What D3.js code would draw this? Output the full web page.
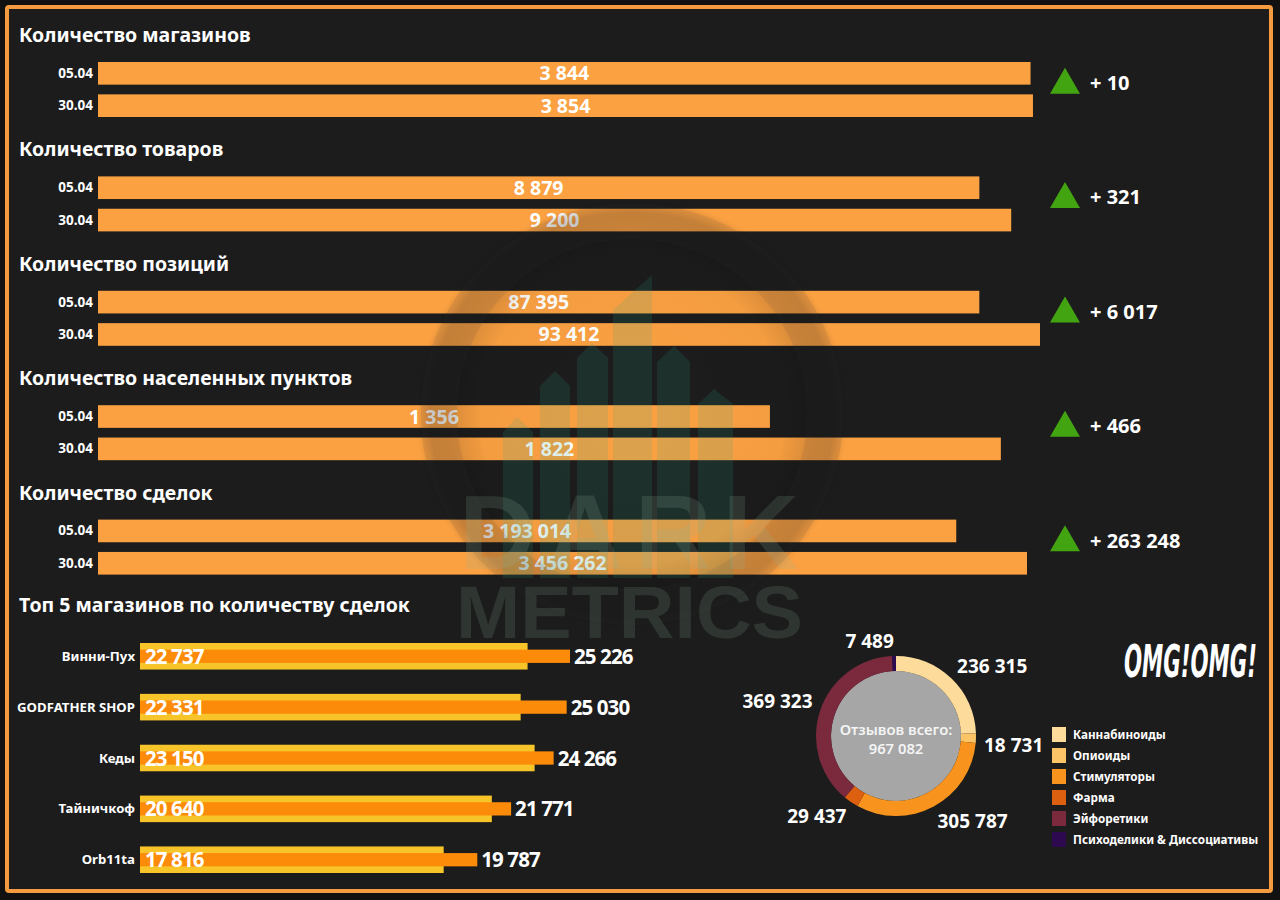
<!DOCTYPE html>
<html><head><meta charset="utf-8">
<script src="https://cdn.jsdelivr.net/npm/d3@7"></script>
<style>html,body{margin:0;padding:0;background:#111;} svg{display:block}</style>
</head><body><div id="chart"></div>
<script>
// ---------- DATA ----------
const sectionTitles = ["Количество магазинов","Количество товаров","Количество позиций","Количество населенных пунктов","Количество сделок"];
const dateLabels = ["05.04","30.04"];
const countsApr05 = [3844, 8879, 87395, 1356, 3193014];
const countsApr30 = [3854, 9200, 93412, 1822, 3456262];
const sectionAxisMax = [3883, 9490, 93412, 1901, 3504600];

const topShopsTitle = "Топ 5 магазинов по количеству сделок";
const shops = ["Винни-Пух","GODFATHER SHOP","Кеды","Тайничкоф","Orb11ta"];
const shopDealsApr05 = [22737, 22331, 23150, 20640, 17816];
const shopDealsApr30 = [25226, 25030, 24266, 21771, 19787];

const reviewCategories = ["Каннабиноиды","Опиоиды","Стимуляторы","Фарма","Эйфоретики","Психоделики & Диссоциативы"];
const reviewCounts = [236315, 18731, 305787, 29437, 369323, 7489];
const reviewColors = ["#fcdb9b","#fbc467","#f8941e","#dc600f","#7b2a3e","#2d0a50"];
const reviewTotalLabel = "Отзывов всего:";
const brandLabel = "OMG!OMG!";
const watermarkWords = ["DARK","METRICS"];

// ---------- SETUP ----------
const W = 1280, H = 900;
const FONT = "'Noto Sans','Open Sans',sans-serif";
const fmt = v => d3.format(",")(v).replace(/,/g, " ");
const BAR = "#fba142";

const svg = d3.select("#chart").append("svg").attr("width", W).attr("height", H)
  .style("font-family", FONT);
svg.append("rect").attr("width", W).attr("height", H).attr("fill", "#111");
svg.append("rect").attr("x", 7).attr("y", 7).attr("width", 1264).attr("height", 884)
  .attr("rx", 2).attr("fill", "#1c1c1c").attr("stroke", "#f59b3f").attr("stroke-width", 4);

// ---------- TOP SECTIONS ----------
const sectionBand = d3.scaleBand().domain(d3.range(sectionTitles.length)).range([20, 20 + 5 * 114.4]);
sectionTitles.forEach((title, i) => {
  const top = sectionBand(i);
  const g = svg.append("g");
  g.append("text").attr("x", 19).attr("y", top + 22).attr("fill", "#fff")
    .attr("font-size", 19.5).attr("font-weight", 700).text(title);
  const yb = d3.scaleBand().domain(dateLabels).range([top + 42, top + 97]).paddingInner(0.3);
  const x = d3.scaleLinear().domain([0, sectionAxisMax[i]]).range([98, 1040]);
  const vals = [countsApr05[i], countsApr30[i]];
  const rows = dateLabels.map((d, k) => ({d, v: vals[k]}));
  g.selectAll("rect.bar").data(rows).join("rect").attr("class", "bar")
    .attr("x", x(0)).attr("y", r => yb(r.d)).attr("width", r => x(r.v) - x(0))
    .attr("height", yb.bandwidth()).attr("fill", BAR);
  g.selectAll("text.date").data(rows).join("text").attr("class", "date")
    .attr("x", 93).attr("y", r => yb(r.d) + yb.bandwidth() / 2 + 4.5)
    .attr("text-anchor", "end").attr("fill", "#fff").attr("font-size", 13.5).attr("font-weight", 700)
    .text(r => r.d);
  g.selectAll("text.val").data(rows).join("text").attr("class", "val")
    .attr("x", r => (x(0) + x(r.v)) / 2).attr("y", r => yb(r.d) + yb.bandwidth() / 2 + 7)
    .attr("text-anchor", "middle").attr("fill", "#fff").attr("font-size", 19.5).attr("font-weight", 700)
    .text(r => fmt(r.v));
  const mid = (yb(dateLabels[0]) + yb(dateLabels[1]) + yb.bandwidth()) / 2;
  const delta = vals[1] - vals[0];
  g.append("path").attr("d", d3.symbol(d3.symbolTriangle, 390)())
    .attr("transform", `translate(1065,${mid - 4.5})`).attr("fill", "#43a412");
  g.append("text").attr("x", 1090).attr("y", mid + 0.5).attr("fill", "#fff")
    .attr("font-size", 20).attr("font-weight", 700).text((delta >= 0 ? "+ " : "- ") + fmt(Math.abs(delta)));
});

// ---------- TOP 5 SHOPS ----------
svg.append("text").attr("x", 19).attr("y", 612).attr("fill", "#fff")
  .attr("font-size", 19.5).attr("font-weight", 700).text(topShopsTitle);
const ys = d3.scaleBand().domain(shops).range([643, 873]).paddingInner(0.478);
const xs = d3.scaleLinear().domain([0, d3.max(shopDealsApr30)]).range([140, 570]);
const shopRows = shops.map((s, i) => ({s, a: shopDealsApr05[i], b: shopDealsApr30[i]}));
const gs = svg.append("g");
gs.selectAll("rect.y").data(shopRows).join("rect").attr("class", "y")
  .attr("x", xs(0)).attr("y", r => ys(r.s)).attr("width", r => xs(r.a) - xs(0))
  .attr("height", ys.bandwidth()).attr("fill", "#f7c52a");
gs.selectAll("rect.o").data(shopRows).join("rect").attr("class", "o")
  .attr("x", xs(0)).attr("y", r => ys(r.s) + ys.bandwidth() * 0.25).attr("width", r => xs(r.b) - xs(0))
  .attr("height", ys.bandwidth() * 0.5).attr("fill", "#fd8b0a");
gs.selectAll("text.name").data(shopRows).join("text").attr("class", "name")
  .attr("x", 135).attr("y", r => ys(r.s) + ys.bandwidth() / 2 + 4.5).attr("text-anchor", "end")
  .attr("fill", "#fff").attr("font-size", 13.2).attr("font-weight", 700).text(r => r.s);
gs.selectAll("text.va").data(shopRows).join("text").attr("class", "va")
  .attr("x", xs(0) + 5).attr("y", r => ys(r.s) + ys.bandwidth() / 2 + 7.5)
  .attr("fill", "#fff").attr("font-size", 20.5).attr("font-weight", 700).attr("letter-spacing", -0.9).text(r => fmt(r.a));
gs.selectAll("text.vb").data(shopRows).join("text").attr("class", "vb")
  .attr("x", r => xs(r.b) + 4).attr("y", r => ys(r.s) + ys.bandwidth() / 2 + 7.5)
  .attr("fill", "#fff").attr("font-size", 20.5).attr("font-weight", 700).attr("letter-spacing", -0.9).text(r => fmt(r.b));

// ---------- DONUT ----------
const cx = 896, cy = 736, rOut = 80, rIn = 65;
const pieData = d3.pie().sort(null).value(d => d.v)(reviewCategories.map((c, i) => ({c, v: reviewCounts[i], col: reviewColors[i]})));
const arc = d3.arc().innerRadius(rIn).outerRadius(rOut);
const gd = svg.append("g").attr("transform", `translate(${cx},${cy})`);
gd.append("circle").attr("r", rIn).attr("fill", "#a6a6a6");
gd.selectAll("path").data(pieData).join("path").attr("d", arc).attr("fill", d => d.data.col);
gd.append("text").attr("y", -1).attr("text-anchor", "middle").attr("fill", "#f4f4f4")
  .attr("font-size", 14.8).attr("font-weight", 600).text(reviewTotalLabel);
gd.append("text").attr("y", 18).attr("text-anchor", "middle").attr("fill", "#f4f4f4")
  .attr("font-size", 14.8).attr("font-weight", 600).text(fmt(d3.sum(reviewCounts)));
const rLab = 88;
gd.selectAll("text.lab").data(pieData).join("text").attr("class", "lab")
  .each(function(d) {
    const a = (d.startAngle + d.endAngle) / 2, s = Math.sin(a), c = Math.cos(a);
    const px = rLab * s, py = -rLab * c;
    const dy = c > 0.3 ? 0 : 14;
    d3.select(this).attr("x", px).attr("y", py + dy).attr("text-anchor", s >= 0 ? "start" : "end");
  })
  .attr("fill", "#fff").attr("font-size", 19).attr("font-weight", 700).text(d => fmt(d.data.v));

// legend
const gl = svg.append("g");
const yl = d3.scaleBand().domain(reviewCategories).range([727, 727 + 21 * 6]);
gl.selectAll("rect").data(reviewCategories).join("rect")
  .attr("x", 1052).attr("y", d => yl(d)).attr("width", 14).attr("height", 15)
  .attr("fill", (d, i) => reviewColors[i]);
gl.selectAll("text").data(reviewCategories).join("text")
  .attr("x", 1073).attr("y", d => yl(d) + 12).attr("fill", "#fff")
  .attr("font-size", 11.7).attr("font-weight", 700).text(d => d);

// brand
svg.append("text").attr("x", 1124).attr("y", 677).attr("fill", "#fff")
  .attr("font-size", 44).attr("font-weight", 700).attr("font-style", "italic")
  .attr("font-family", "'DejaVu Sans Condensed','DejaVu Sans',sans-serif")
  .attr("textLength", 133).attr("lengthAdjust", "spacingAndGlyphs").text(brandLabel);

// ---------- WATERMARK ----------
const wm = svg.append("g").attr("pointer-events", "none");
const defs = svg.append("defs");
const rg = defs.append("radialGradient").attr("id", "wmg");
[[0, 0], [0.7, 0.03], [0.84, 0.14], [0.93, 0.16], [1, 0]].forEach(([o, a]) =>
  rg.append("stop").attr("offset", o).attr("stop-color", "#000").attr("stop-opacity", a));
wm.append("circle").attr("cx", 632).attr("cy", 414).attr("r", 216).attr("fill", "url(#wmg)");
wm.append("circle").attr("cx", 632).attr("cy", 414).attr("r", 193).attr("fill", "none")
  .attr("stroke", "#3a3a3a").attr("stroke-opacity", 0.1).attr("stroke-width", 36);
const bld = [
  [[503,578],[503,432],[517,417],[533,432],[533,578]],
  [[540,578],[540,386],[555,371],[570,386],[570,578]],
  [[577,578],[577,358],[592,343],[608,358],[608,578]],
  [[613,578],[613,310],[652,275],[652,578]],
  [[657,578],[657,362],[674,346],[690,362],[690,578]],
  [[698,578],[698,404],[714,389],[733,404],[733,578]]
];
wm.selectAll("path.b").data(bld).join("path").attr("class", "b")
  .attr("d", d => d3.line()(d) + "Z").attr("fill", "#2aa88c").attr("fill-opacity", 0.14);
wm.append("text").attr("x", 459).attr("y", 569).attr("font-family", "'Liberation Sans',Arial,sans-serif")
  .attr("font-size", 106).attr("font-weight", 700).attr("textLength", 340).attr("lengthAdjust", "spacing")
  .attr("fill", "#8fb5a2").attr("fill-opacity", 0.17).text(watermarkWords[0]);
wm.append("text").attr("x", 456).attr("y", 638).attr("font-family", "'Liberation Sans',Arial,sans-serif")
  .attr("font-size", 74).attr("font-weight", 700).attr("textLength", 347).attr("lengthAdjust", "spacingAndGlyphs")
  .attr("fill", "#8fb5a2").attr("fill-opacity", 0.17).text(watermarkWords[1]);
</script></body></html>
